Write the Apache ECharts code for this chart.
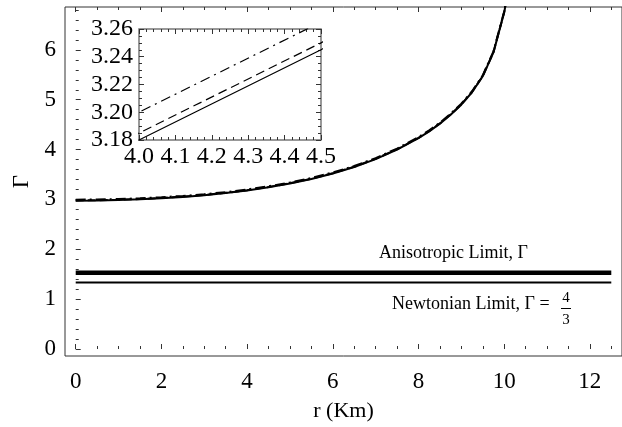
<!DOCTYPE html>
<html><head><meta charset="utf-8">
<script src="https://cdn.jsdelivr.net/npm/echarts@6/dist/echarts.min.js"></script>
<style>html,body{margin:0;padding:0;background:#fff}#c{width:622px;height:427px}</style>
</head><body><div id="c"></div>
<script>
// ---- data ----
const rValues      = [0, 0.5, 1, 1.5, 2, 2.5, 3, 3.5, 4, 4.5, 5, 5.5, 6, 6.5, 7, 7.5, 8, 8.25, 8.5, 8.75, 9, 9.25, 9.5, 9.75, 10, 10.25];
const gammaSolid   = [2.975, 2.979, 2.988, 3.003, 3.024, 3.051, 3.085, 3.127, 3.180, 3.245, 3.320, 3.410, 3.520, 3.650, 3.810, 4.000, 4.230, 4.365, 4.520, 4.700, 4.900, 5.150, 5.470, 5.950, 6.750, 7.900];
const gammaDashed  = [2.980, 2.984, 2.993, 3.008, 3.029, 3.056, 3.090, 3.132, 3.185, 3.250, 3.325, 3.415, 3.525, 3.655, 3.815, 4.005, 4.235, 4.370, 4.525, 4.705, 4.905, 5.155, 5.475, 5.955, 6.755, 7.905];
const gammaDashDot = [2.995, 2.999, 3.008, 3.023, 3.044, 3.071, 3.105, 3.147, 3.200, 3.265, 3.340, 3.430, 3.540, 3.670, 3.830, 4.020, 4.250, 4.385, 4.540, 4.720, 4.920, 5.170, 5.490, 5.970, 6.770, 7.920];
const anisotropicLimit = 1.53;
const newtonianLimit = 4 / 3;
const rDomain = [0, 12.5];

const xTickValues      = [0, 2, 4, 6, 8, 10, 12];
const xMinorTickValues = [0.5, 1, 1.5, 2.5, 3, 3.5, 4.5, 5, 5.5, 6.5, 7, 7.5, 8.5, 9, 9.5, 10.5, 11, 11.5, 12.5];
const yTickValues      = [0, 1, 2, 3, 4, 5, 6];
const yMinorTickValues = [0.2, 0.4, 0.6, 0.8, 1.2, 1.4, 1.6, 1.8, 2.2, 2.4, 2.6, 2.8, 3.2, 3.4, 3.6, 3.8, 4.2, 4.4, 4.6, 4.8, 5.2, 5.4, 5.6, 5.8, 6.2, 6.4, 6.6, 6.8];
const insetXRange = [4.0, 4.5];
const insetYRange = [3.18, 3.26];

// ---- chart ----
const FONT = '"Liberation Serif", "Times New Roman", serif';
const pairs = (xs, ys) => xs.map((x, i) => [x, ys[i]]);
const chart = echarts.init(document.getElementById('c'), null, {renderer: 'canvas'});

const tickColor = '#333';
function mainX(extra) {
  return Object.assign({
    type: 'value', gridIndex: 0, min: -0.25, max: 12.75,
    axisLine: {show: false}, splitLine: {show: false},
    axisLabel: {show: false}
  }, extra);
}
function mainY(extra) {
  return Object.assign({
    type: 'value', gridIndex: 0, min: -0.14, max: 6.86,
    axisLine: {show: false}, splitLine: {show: false},
    axisLabel: {show: false}
  }, extra);
}
const majorTick = (vals) => ({show: true, inside: true, length: 5, customValues: vals, lineStyle: {color: tickColor, width: 1}});
const minorTick = (vals) => ({show: true, inside: true, length: 3, customValues: vals, lineStyle: {color: tickColor, width: 1}});

function insetX(extra) {
  return Object.assign({
    type: 'value', gridIndex: 1, min: insetXRange[0], max: insetXRange[1], interval: 0.1,
    axisLine: {show: false}, splitLine: {show: false},
    axisTick: {show: true, inside: true, length: 5, lineStyle: {color: tickColor}},
    minorTick: {show: true, splitNumber: 5, length: 3, lineStyle: {color: tickColor}},
    minorSplitLine: {show: false},
    axisLabel: {show: false}
  }, extra);
}
function insetY(extra) {
  return Object.assign({
    type: 'value', gridIndex: 1, min: insetYRange[0], max: insetYRange[1], interval: 0.02,
    axisLine: {show: false}, splitLine: {show: false},
    axisTick: {show: true, inside: true, length: 5, lineStyle: {color: tickColor}},
    minorTick: {show: true, splitNumber: 4, length: 3, lineStyle: {color: tickColor}},
    minorSplitLine: {show: false},
    axisLabel: {show: false}
  }, extra);
}

const lineBase = {type: 'line', showSymbol: false, symbol: 'none', smooth: false, clip: true, animation: false};

const option = {
  animation: false,
  backgroundColor: '#fff',
  grid: [
    {left: 65, top: 7, width: 568.75, height: 350, show: true, borderColor: '#333', borderWidth: 1, backgroundColor: 'transparent', containLabel: false},
    {left: 139, top: 29, width: 182, height: 111, show: true, borderColor: '#777', borderWidth: 1.5, backgroundColor: '#fff', containLabel: false}
  ],
  xAxis: [
    mainX({position: 'bottom', axisTick: majorTick(xTickValues),
      axisLabel: {show: true, customValues: xTickValues, margin: 14, fontFamily: FONT, fontSize: 23, color: '#000'},
      name: 'r (Km)', nameLocation: 'middle', nameGap: 44, nameTextStyle: {fontFamily: FONT, fontSize: 22, color: '#000'}}),
    mainX({position: 'bottom', axisTick: minorTick(xMinorTickValues)}),
    mainX({position: 'top', axisTick: majorTick(xTickValues)}),
    mainX({position: 'top', axisTick: minorTick(xMinorTickValues)}),
    insetX({position: 'bottom', axisLabel: {show: true, margin: 5, fontFamily: FONT, fontSize: 24, color: '#000', formatter: v => v.toFixed(1)}}),
    insetX({position: 'top'})
  ],
  yAxis: [
    mainY({position: 'left', axisTick: majorTick(yTickValues),
      axisLabel: {show: true, customValues: yTickValues, margin: 9, fontFamily: FONT, fontSize: 23, color: '#000'},
      name: 'Γ', nameLocation: 'middle', nameGap: 31, nameRotate: 90, nameTextStyle: {fontFamily: FONT, fontSize: 23, color: '#000'}}),
    mainY({position: 'left', axisTick: minorTick(yMinorTickValues)}),
    insetY({position: 'left', axisLabel: {show: true, margin: 6, fontFamily: FONT, fontSize: 24, color: '#000', formatter: v => v.toFixed(2)}}),
    insetY({position: 'right'})
  ],
  series: [
    Object.assign({}, lineBase, {name: 'solid', xAxisIndex: 0, yAxisIndex: 0, data: pairs(rValues, gammaSolid), lineStyle: {color: '#000', width: 2}}),
    Object.assign({}, lineBase, {name: 'dashed', xAxisIndex: 0, yAxisIndex: 0, data: pairs(rValues, gammaDashed), lineStyle: {color: '#000', width: 2, type: [8, 4]}}),
    Object.assign({}, lineBase, {name: 'dashdot', xAxisIndex: 0, yAxisIndex: 0, data: pairs(rValues, gammaDashDot), lineStyle: {color: '#000', width: 2, type: [10, 4, 2, 4]}}),
    Object.assign({}, lineBase, {name: 'aniso', xAxisIndex: 0, yAxisIndex: 0, data: pairs(rDomain, [anisotropicLimit, anisotropicLimit]), lineStyle: {color: '#000', width: 4.5}}),
    Object.assign({}, lineBase, {name: 'newton', xAxisIndex: 0, yAxisIndex: 0, data: pairs(rDomain, [newtonianLimit, newtonianLimit]), lineStyle: {color: '#000', width: 2}}),
    Object.assign({}, lineBase, {name: 'solid-inset', xAxisIndex: 4, yAxisIndex: 2, data: pairs(rValues, gammaSolid), lineStyle: {color: '#000', width: 1.2}, z: 5}),
    Object.assign({}, lineBase, {name: 'dashed-inset', xAxisIndex: 4, yAxisIndex: 2, data: pairs(rValues, gammaDashed), lineStyle: {color: '#000', width: 1.2, type: [9, 5]}, z: 5}),
    Object.assign({}, lineBase, {name: 'dashdot-inset', xAxisIndex: 4, yAxisIndex: 2, data: pairs(rValues, gammaDashDot), lineStyle: {color: '#000', width: 1.2, type: [10, 5, 2, 5]}, z: 5})
  ],
  graphic: [
    {type: 'text', x: 379, y: 253, style: {text: 'Anisotropic Limit, Γ', font: '18px ' + FONT, fill: '#000', verticalAlign: 'middle', textVerticalAlign: 'middle'}},
    {type: 'text', x: 392, y: 304, style: {text: 'Newtonian Limit, Γ =', font: '18px ' + FONT, fill: '#000', verticalAlign: 'middle', textVerticalAlign: 'middle'}},
    {type: 'text', x: 566, y: 298, style: {text: '4', font: '15px ' + FONT, fill: '#000', align: 'center', textAlign: 'center', verticalAlign: 'middle', textVerticalAlign: 'middle'}},
    {type: 'line', shape: {x1: 561, y1: 308.5, x2: 571, y2: 308.5}, style: {stroke: '#000', lineWidth: 1}},
    {type: 'text', x: 566, y: 320, style: {text: '3', font: '15px ' + FONT, fill: '#000', align: 'center', textAlign: 'center', verticalAlign: 'middle', textVerticalAlign: 'middle'}}
  ]
};
chart.setOption(option);
</script>
</body></html>
